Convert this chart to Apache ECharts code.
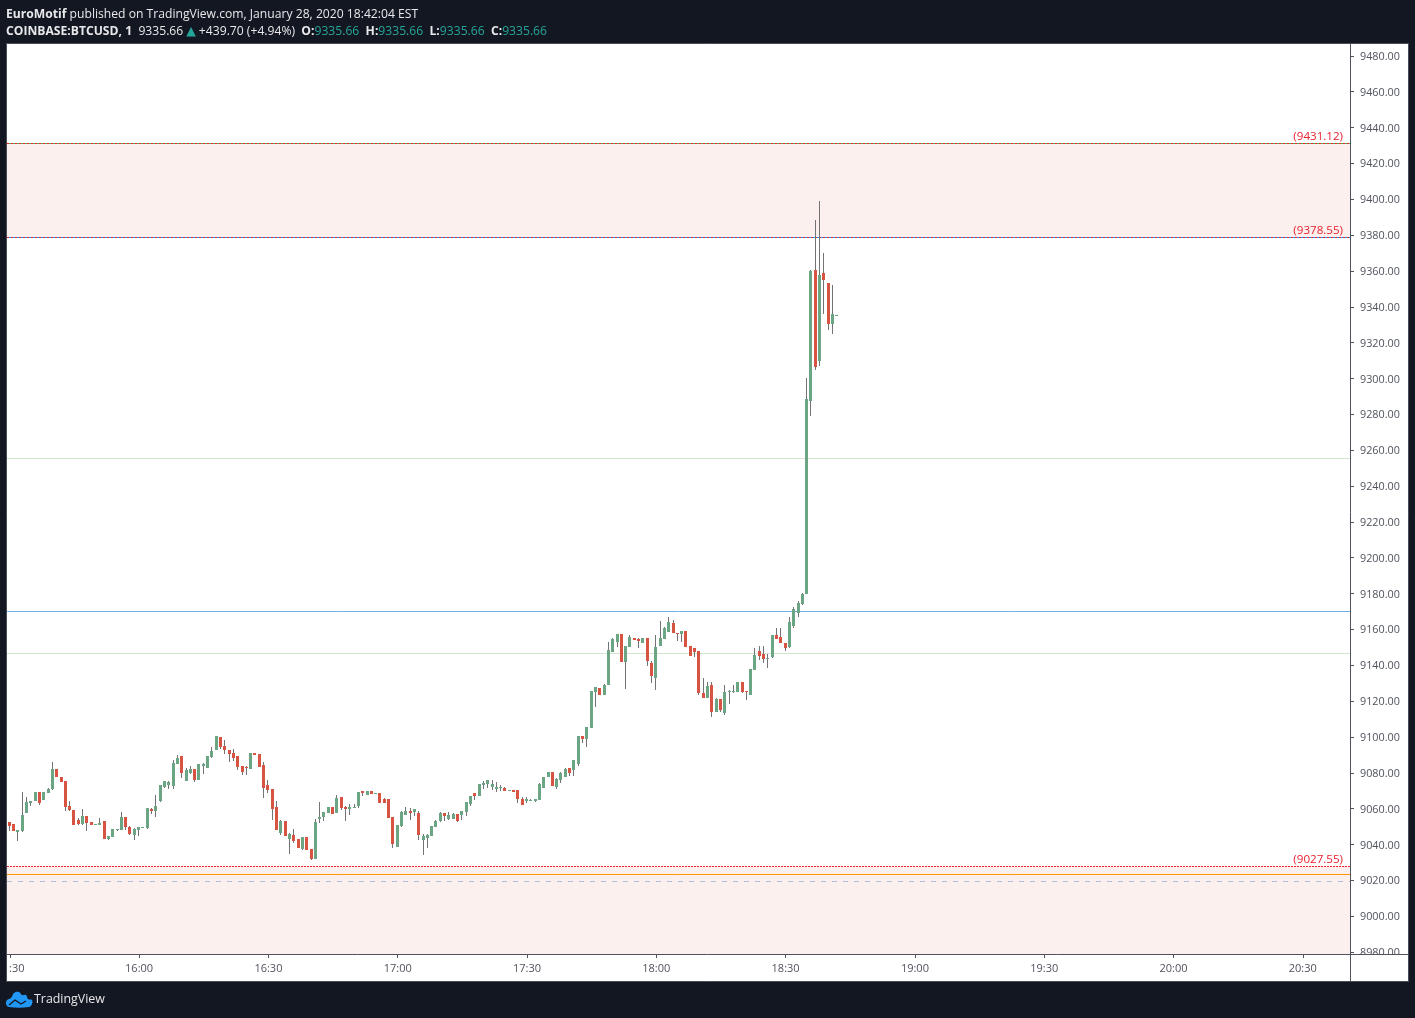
<!DOCTYPE html>
<html>
<head>
<meta charset="utf-8">
<style>
  html, body { margin: 0; padding: 0; background: #131722; }
  #chart { width: 1415px; height: 1018px; }
</style>
<script src="https://cdn.jsdelivr.net/npm/echarts@6/dist/echarts.min.js"></script>
</head>
<body>
<div id="chart"></div>
<script>
var opens = [
  9052.6,9051.4,9047.0,9047.5,9057.6,9063.2,9064.3,9069.3,9064.8,9068.7,
  9071.0,9082.1,9077.7,9075.4,9061.5,9059.3,9053.7,9051.4,9055.9,9052.6,
  9050.9,9050.9,9053.1,9043.1,9044.2,9048.1,9048.1,9055.4,9049.8,9045.3,
  9048.1,9049.2,9049.2,9059.8,9058.7,9064.3,9072.1,9073.2,9072.6,9084.9,
  9089.4,9075.4,9079.9,9082.1,9076.0,9083.8,9082.7,9088.8,9092.7,9100.0,
  9095.0,9092.7,9091.1,9089.4,9083.8,9083.2,9082.1,9091.1,9090.5,9084.4,
  9073.2,9071.0,9060.9,9046.4,9053.1,9043.1,9045.3,9043.1,9037.5,9044.2,
  9037.5,9031.9,9054.2,9055.4,9057.6,9060.9,9057.6,9066.5,9060.9,9059.8,
  9060.4,9061.5,9069.9,9067.6,9069.9,9068.2,9068.7,9065.4,9065.4,9055.4,
  9038.6,9050.3,9056.5,9058.7,9058.1,9057.6,9042.5,9043.6,9044.7,9049.8,
  9053.1,9057.6,9054.2,9054.2,9057.0,9056.5,9058.1,9062.6,9068.7,9067.1,
  9073.2,9073.8,9072.1,9071.0,9071.5,9071.5,9069.9,9070.4,9070.4,9065.4,
  9064.3,9064.3,9064.3,9064.8,9071.5,9077.7,9080.5,9072.1,9076.0,9077.7,
  9082.7,9081.6,9084.9,9100.5,9098.9,9105.0,9125.0,9127.3,9123.4,9129.0,
  9147.4,9153.0,9157.4,9141.8,9150.2,9155.2,9154.6,9152.4,9155.2,9141.2,
  9132.9,9150.7,9154.6,9158.5,9163.5,9158.0,9157.4,9159.1,9150.7,9149.6,
  9147.9,9124.5,9121.7,9129.0,9113.9,9121.1,9113.3,9125.0,9125.0,9125.0,
  9130.6,9125.6,9123.4,9137.3,9147.9,9146.3,9143.5,9144.6,9156.9,9155.7,
  9152.4,9150.2,9161.9,9169.1,9174.1,9179.7,9287.4,9360.5,9309.7,9358.8,9353.2,9330.4,9335.66
];
var closes = [
  9050.3,9047.5,9048.1,9056.5,9063.7,9064.3,9069.3,9063.2,9069.3,9071.0,
  9082.1,9077.7,9074.9,9060.9,9059.3,9050.9,9051.4,9055.9,9052.0,9050.9,
  9051.4,9052.0,9043.1,9044.7,9048.7,9048.7,9055.4,9049.8,9045.9,9048.7,
  9049.8,9049.8,9060.4,9058.7,9061.5,9073.2,9075.4,9074.9,9085.5,9088.3,
  9079.9,9081.6,9082.1,9076.0,9084.9,9084.9,9089.4,9092.2,9100.5,9094.4,
  9092.7,9090.5,9088.3,9083.2,9080.5,9082.7,9091.1,9090.0,9083.2,9071.5,
  9070.4,9059.8,9048.1,9053.1,9044.7,9045.9,9042.0,9038.1,9044.2,9036.9,
  9031.9,9052.6,9055.4,9058.1,9060.9,9057.0,9066.0,9060.4,9059.8,9060.9,
  9060.9,9069.3,9068.7,9069.9,9068.2,9068.7,9063.2,9063.2,9054.8,9040.3,
  9050.9,9058.1,9058.7,9057.6,9059.8,9045.3,9044.7,9045.3,9050.3,9053.1,
  9057.6,9055.9,9056.5,9057.0,9053.1,9058.7,9063.7,9067.1,9067.1,9073.8,
  9074.3,9076.0,9073.8,9072.1,9072.1,9069.9,9070.4,9069.3,9065.4,9062.1,
  9065.4,9064.8,9065.4,9073.8,9077.7,9080.5,9072.6,9076.5,9079.9,9082.1,
  9079.9,9087.1,9100.5,9098.9,9105.6,9125.6,9127.8,9123.4,9129.0,9148.5,
  9154.6,9157.4,9141.8,9150.7,9155.7,9154.1,9153.5,9155.2,9142.3,9134.0,
  9150.2,9155.2,9160.8,9164.1,9158.0,9157.4,9159.1,9150.2,9145.1,9147.4,
  9124.5,9121.7,9128.4,9113.9,9121.1,9115.0,9125.0,9125.6,9125.6,9130.6,
  9125.0,9125.0,9137.9,9145.7,9145.1,9143.5,9144.0,9156.9,9154.6,9152.4,
  9149.6,9164.1,9171.4,9174.7,9179.7,9288.5,9359.9,9306.4,9357.7,9354.9,9330.4,9335.9,9335.66
];
var lows = [
  9047.5,9047.5,9042.0,9047.0,9057.6,9061.5,9064.3,9062.1,9064.8,9068.7,
  9070.4,9077.7,9074.9,9058.7,9058.7,9050.9,9050.9,9050.9,9047.5,9050.9,
  9050.9,9050.9,9043.1,9042.5,9044.2,9047.5,9048.1,9048.1,9045.3,9042.5,
  9044.7,9049.2,9048.7,9057.0,9055.4,9063.7,9071.5,9071.0,9071.0,9084.9,
  9077.1,9075.4,9079.3,9074.9,9076.0,9079.3,9082.7,9088.3,9092.7,9093.3,
  9090.5,9086.0,9086.6,9081.6,9078.8,9078.8,9082.1,9090.0,9083.2,9066.0,
  9068.7,9053.7,9048.1,9045.3,9044.7,9034.7,9040.9,9038.1,9036.9,9036.9,
  9031.4,9031.9,9052.0,9053.1,9057.6,9057.0,9057.6,9059.3,9053.1,9056.5,
  9060.4,9060.4,9067.1,9067.6,9068.2,9068.2,9063.2,9063.2,9054.8,9038.1,
  9038.6,9049.8,9056.5,9053.7,9055.9,9042.5,9034.2,9038.1,9044.7,9049.8,
  9052.6,9053.1,9053.7,9054.2,9052.6,9053.7,9055.9,9061.5,9064.8,9067.1,
  9071.0,9071.5,9070.4,9069.3,9069.9,9069.9,9069.9,9069.3,9063.2,9062.1,
  9063.2,9064.3,9063.7,9064.8,9071.5,9077.7,9072.6,9071.0,9074.3,9077.7,
  9078.2,9078.2,9083.8,9096.6,9094.4,9105.0,9116.7,9123.4,9123.4,9129.0,
  9147.4,9150.2,9141.8,9126.7,9150.2,9154.1,9149.6,9152.4,9139.6,9130.1,
  9126.2,9150.7,9154.6,9158.5,9158.0,9153.5,9153.0,9150.2,9145.1,9144.6,
  9123.4,9121.7,9121.7,9111.1,9113.9,9113.9,9112.2,9118.4,9124.5,9125.0,
  9124.5,9120.6,9123.4,9137.3,9142.9,9141.2,9138.4,9144.0,9154.6,9152.4,
  9147.9,9149.6,9160.8,9166.9,9173.6,9179.7,9279.0,9304.7,9306.9,9335.9,9327.0,9324.8,9335.66
];
var highs = [
  9052.6,9051.4,9048.1,9069.3,9066.5,9064.3,9069.3,9069.3,9069.3,9071.5,
  9086.0,9082.1,9077.7,9075.4,9064.3,9059.3,9054.8,9059.8,9055.9,9052.6,
  9051.4,9054.8,9053.1,9044.7,9048.7,9048.7,9058.1,9055.4,9050.3,9049.2,
  9049.8,9049.8,9060.4,9060.4,9067.6,9073.2,9075.4,9075.4,9087.1,9090.0,
  9089.4,9082.7,9083.8,9082.1,9084.9,9085.5,9089.4,9094.4,9100.5,9100.0,
  9098.3,9092.7,9093.3,9089.4,9083.8,9083.8,9091.1,9091.1,9090.5,9086.0,
  9076.0,9071.0,9064.3,9053.7,9053.1,9046.4,9048.7,9043.1,9044.2,9044.2,
  9037.5,9054.2,9063.7,9058.1,9060.9,9060.9,9067.6,9066.5,9061.5,9062.6,
  9062.6,9069.3,9069.9,9069.9,9069.9,9068.7,9068.7,9066.0,9065.4,9055.4,
  9050.9,9058.7,9060.9,9060.4,9059.8,9058.7,9045.9,9045.9,9050.3,9053.7,
  9058.1,9057.6,9058.1,9057.6,9057.0,9058.7,9063.7,9067.1,9068.7,9073.8,
  9075.4,9076.0,9076.0,9074.9,9073.2,9072.1,9070.4,9070.4,9070.4,9066.5,
  9066.5,9065.4,9065.4,9074.3,9077.7,9080.5,9080.5,9077.1,9080.5,9082.7,
  9082.7,9087.1,9100.5,9100.5,9105.6,9125.6,9127.8,9127.3,9129.5,9153.0,
  9155.2,9157.4,9157.4,9150.7,9156.9,9155.2,9155.2,9155.2,9155.2,9142.3,
  9156.9,9164.7,9161.3,9166.9,9165.2,9158.0,9159.1,9159.1,9150.7,9149.6,
  9147.9,9132.9,9130.6,9130.6,9121.7,9121.1,9129.0,9126.2,9129.0,9130.6,
  9130.6,9125.6,9137.9,9149.6,9150.7,9150.7,9146.3,9156.9,9160.8,9160.8,
  9152.4,9166.9,9172.5,9175.8,9180.3,9300.2,9360.5,9388.4,9399.0,9369.9,9353.2,9352.1,9335.66
];

// x axis is minutes after 15:30
var timeTicks = [0, 30, 60, 90, 120, 150, 180, 210, 240, 270, 300];
var timeLabels = ['15:30', '16:00', '16:30', '17:00', '17:30', '18:00', '18:30', '19:00', '19:30', '20:00', '20:30'];
var priceTicks = [8980, 9000, 9020, 9040, 9060, 9080, 9100, 9120, 9140, 9160, 9180, 9200, 9220, 9240,
  9260, 9280, 9300, 9320, 9340, 9360, 9380, 9400, 9420, 9440, 9460, 9480];

var upperZone = [9378.55, 9431.12];
var lowerZoneTop = 9027.55;
var priceMin = 8978.9;
var priceMax = 9486.6;

// horizontal levels, drawn in this order
var levelValues = [9431.12, 9378.55, 9431.12, 9378.55, 9027.55, 9255.3, 9146.5, 9170, 9023.2, 9019.5];
var levelLabels = ['', '', '(9431.12)', '(9378.55)', '(9027.55)', '', '', '', '', ''];
var levelColors = ['#4caf50', '#2196f3', '#f5222d', '#f5222d', '#f5222d', '#cfe6cc', '#cfe6cc', '#6fb1e4', '#ff9800', '#aebfdc'];
var levelDashes = [null, null, [2, 2], [2, 2], [2, 1], null, null, null, null, [5, 6]];

var FONT = '"Open Sans", sans-serif';
var UP = '#6ba583';
var DOWN = '#d75442';
var WICK = '#737375';
var TEAL = '#26a69a';
var AXIS = '#50535e';

var candleData = opens.map(function (o, i) {
  return [i, o, closes[i], lows[i], highs[i]];
});
var levelData = levelValues.map(function (v, i) {
  return [i, v];
});

// candlestick shares one stroke for wick and body, the original has grey wicks
function renderCandle(params, api) {
  var x = api.value(0);
  var o = api.value(1);
  var c = api.value(2);
  var cx = Math.round(api.coord([x, o])[0]) - 1;
  var yOpen = Math.round(api.coord([x, o])[1]);
  var yClose = Math.round(api.coord([x, c])[1]);
  var yLow = Math.round(api.coord([x, api.value(3)])[1]);
  var yHigh = Math.round(api.coord([x, api.value(4)])[1]);
  var top = Math.min(yOpen, yClose);
  return {
    type: 'group',
    children: [
      {
        type: 'line',
        shape: { x1: cx + 0.5, y1: yHigh, x2: cx + 0.5, y2: yLow },
        style: { stroke: WICK, lineWidth: 1 }
      },
      {
        type: 'rect',
        shape: { x: cx - 1, y: top, width: 3, height: Math.max(1, Math.abs(yOpen - yClose)) },
        style: { fill: c < o ? DOWN : UP }
      }
    ]
  };
}

function renderLevel(params, api) {
  var i = api.value(0);
  var box = params.coordSys;
  var y = Math.floor(api.coord([0, api.value(1)])[1]) + 0.5;
  var children = [
    {
      type: 'line',
      shape: { x1: box.x, y1: y, x2: box.x + box.width, y2: y },
      style: { stroke: levelColors[i], lineWidth: 1, lineDash: levelDashes[i] }
    }
  ];
  if (levelLabels[i]) {
    children.push({
      type: 'text',
      x: box.x + box.width - 7,
      y: y - 6.5,
      style: {
        text: levelLabels[i],
        fill: '#e8212e',
        font: '11.6px ' + FONT,
        align: 'right',
        verticalAlign: 'middle'
      }
    });
  }
  return { type: 'group', children: children };
}

var option = {
  animation: false,
  backgroundColor: '#131722',
  title: [
    {
      left: 6, top: 9, padding: 0,
      text: '{b|EuroMotif} published on TradingView.com, January 28, 2020 18:42:04 EST',
      textStyle: {
        color: '#e8e8ea', fontFamily: FONT, fontSize: 12.15, fontWeight: 'normal',
        rich: { b: { fontWeight: 'bold', color: '#e8e8ea', fontFamily: FONT, fontSize: 12.15 } }
      }
    },
    {
      left: 6, top: 25, padding: 0,
      text: '{b|COINBASE:BTCUSD, 1}  9335.66{u|▲}+439.70 (+4.94%)  {b|O:}{t|9335.66}  {b|H:}{t|9335.66}  {b|L:}{t|9335.66}  {b|C:}{t|9335.66}',
      textStyle: {
        color: '#e8e8ea', fontFamily: FONT, fontSize: 12.15, fontWeight: 'normal',
        rich: {
          b: { fontWeight: 'bold', color: '#e8e8ea', fontFamily: FONT, fontSize: 12.15 },
          t: { color: TEAL, fontFamily: FONT, fontSize: 12.15 },
          u: { color: TEAL, fontFamily: '"DejaVu Sans"', fontSize: 12.5, padding: [0, 3, 0, 3] }
        }
      }
    }
  ],
  graphic: [
    // white chart panel
    {
      type: 'rect', z: -10, silent: true,
      shape: { x: 6.5, y: 43.5, width: 1402, height: 938 },
      style: { fill: '#ffffff', stroke: '#4a4e59', lineWidth: 1 }
    },
    // hides the lower half of the bottom price label
    {
      type: 'rect', z: 100, silent: true,
      shape: { x: 1352, y: 955, width: 56, height: 14 },
      style: { fill: '#ffffff' }
    },
    { type: 'line', z: 101, silent: true, shape: { x1: 1350.5, y1: 44, x2: 1350.5, y2: 981 }, style: { stroke: AXIS, lineWidth: 1 } },
    { type: 'line', z: 101, silent: true, shape: { x1: 7, y1: 954.5, x2: 1408, y2: 954.5 }, style: { stroke: AXIS, lineWidth: 1 } },
    // TradingView logo
    {
      type: 'polygon', silent: true, x: 6, y: 992,
      shape: {
        smooth: 0.35,
        points: [[3, 15], [0, 12], [1, 8], [5, 6], [8, 1], [13, 0], [16, 3], [20, 3], [22, 7], [26, 8], [26, 12], [23, 15]]
      },
      style: { fill: '#2196f3' }
    },
    {
      type: 'polyline', silent: true, x: 6, y: 992,
      shape: { points: [[3, 13], [9, 8], [15, 12], [20, 9]] },
      style: { fill: 'none', stroke: '#131722', lineWidth: 1.4 }
    },
    {
      type: 'text', silent: true, x: 34, y: 999,
      style: {
        text: 'TradingView', fill: '#e8e8ea', font: '12.4px ' + FONT,
        verticalAlign: 'middle'
      }
    }
  ],
  grid: { left: 7, right: 65, top: 44, bottom: 64, containLabel: false },
  xAxis: {
    type: 'value',
    min: -0.65,
    max: 310.95,
    splitLine: { show: false },
    axisLine: { show: false, onZero: false },
    axisTick: { show: true, length: 4, customValues: timeTicks, lineStyle: { color: AXIS } },
    axisLabel: {
      customValues: timeTicks,
      color: AXIS,
      fontFamily: FONT,
      fontSize: 11,
      margin: 9,
      formatter: function (v) {
        // the first label is cut off by the panel edge in the original
        if (v === 0) return '{a|:30}';
        return timeLabels[timeTicks.indexOf(v)];
      },
      rich: { a: { color: AXIS, fontFamily: FONT, fontSize: 11, padding: [0, 0, 0, 14] } }
    }
  },
  yAxis: {
    type: 'value',
    position: 'right',
    min: priceMin,
    max: priceMax,
    splitLine: { show: false },
    axisLine: { show: false, onZero: false },
    axisTick: { show: true, length: 4, customValues: priceTicks, lineStyle: { color: AXIS } },
    axisLabel: {
      customValues: priceTicks,
      margin: 10,
      formatter: function (v) { return '{p|' + v.toFixed(2) + '}'; },
      rich: { p: { color: AXIS, fontFamily: FONT, fontSize: 10.8, padding: [2, 0, 0, 0] } }
    }
  },
  series: [
    {
      type: 'custom',
      name: 'levels',
      data: levelData,
      encode: { y: 1 },
      renderItem: renderLevel,
      silent: true,
      markArea: {
        silent: true,
        itemStyle: { color: '#fcf0ef' },
        data: [
          [{ yAxis: upperZone[0] }, { yAxis: upperZone[1] }],
          [{ yAxis: priceMin }, { yAxis: lowerZoneTop }]
        ]
      }
    },
    {
      type: 'custom',
      name: 'BTCUSD',
      data: candleData,
      encode: { x: 0, y: [1, 2, 3, 4] },
      renderItem: renderCandle,
      silent: true,
      clip: true
    }
  ]
};

var chart = echarts.init(document.getElementById('chart'), null, { renderer: 'canvas' });
chart.setOption(option);
</script>
</body>
</html>
